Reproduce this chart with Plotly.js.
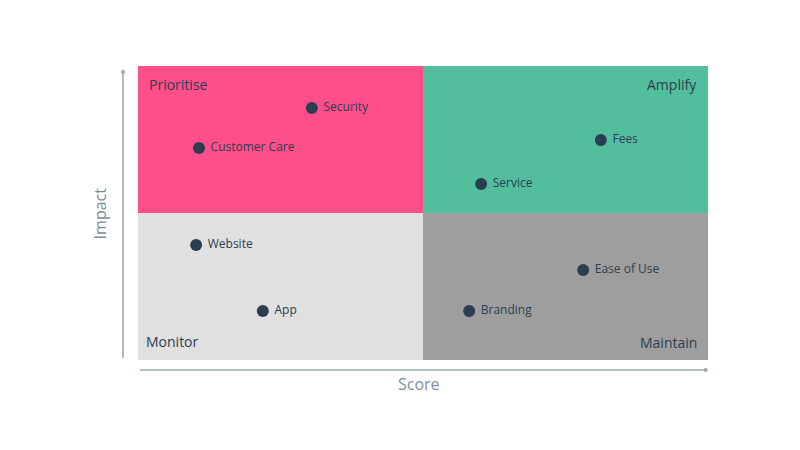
<!DOCTYPE html>
<html><head><meta charset="utf-8">
<script src="https://cdn.plot.ly/plotly-3.0.1.min.js"></script>
<style>body{margin:0;background:#fff}#c{width:800px;height:450px}</style>
</head><body><div id="c"></div>
<script>
var items = ["Security","Customer Care","Fees","Service","Website","App","Ease of Use","Branding"];
var scores = [30.5, 10.7, 81.2, 60.2, 10.2, 21.9, 78.1, 58.1];
var impacts = [85.7, 72.1, 74.8, 59.9, 39.1, 16.7, 30.6, 16.7];
var quadrantNames = ["Prioritise","Amplify","Monitor","Maintain"];
var quadrantColors = ["#FF4F8A","#52BE9E","#E0E0E0","#9E9E9E"];
var axisTitles = {x:"Score", y:"Impact"};

var FONT = "Open Sans, Lato, sans-serif";
var dark = "#2B3E50";

var trace = {
  x: scores, y: impacts, text: items, mode: "markers+text",
  type: "scatter", textposition: "middle right",
  marker: {size: 12, color: dark},
  textfont: {family: FONT, size: 12, color: dark},
  texttemplate: " %{text}", hoverinfo: "text", cliponaxis: false
};

var shapes = [
  {type:"rect", xref:"x", yref:"y", x0:0, x1:50, y0:50, y1:100, fillcolor:quadrantColors[0], line:{width:0}, layer:"below"},
  {type:"rect", xref:"x", yref:"y", x0:50, x1:100, y0:50, y1:100, fillcolor:quadrantColors[1], line:{width:0}, layer:"below"},
  {type:"rect", xref:"x", yref:"y", x0:0, x1:50, y0:0, y1:50, fillcolor:quadrantColors[2], line:{width:0}, layer:"below"},
  {type:"rect", xref:"x", yref:"y", x0:50, x1:100, y0:0, y1:50, fillcolor:quadrantColors[3], line:{width:0}, layer:"below"},
  {type:"line", xref:"paper", yref:"paper", x0:-0.0263, x1:-0.0263, y0:0.007, y1:0.98, line:{color:"#9AA8B0", width:1.5}},
  {type:"circle", xref:"paper", yref:"paper", x0:-0.0298, x1:-0.0228, y0:0.973, y1:0.987, fillcolor:"#9AA8B0", line:{width:0}},
  {type:"line", xref:"paper", yref:"paper", x0:0.0035, x1:0.996, y0:-0.034, y1:-0.034, line:{color:"#9AA8B0", width:1.5}},
  {type:"circle", xref:"paper", yref:"paper", x0:0.9925, x1:0.9995, y0:-0.041, y1:-0.027, fillcolor:"#9AA8B0", line:{width:0}}
];

var qf = {family: FONT, size: 14, color: dark};
var annotations = [
  {text:quadrantNames[0], xref:"paper", yref:"paper", x:0.016, y:0.975, xanchor:"left", yanchor:"top", showarrow:false, font:qf},
  {text:quadrantNames[1], xref:"paper", yref:"paper", x:0.985, y:0.975, xanchor:"right", yanchor:"top", showarrow:false, font:qf},
  {text:quadrantNames[2], xref:"paper", yref:"paper", x:0.011, y:0.025, xanchor:"left", yanchor:"bottom", showarrow:false, font:qf},
  {text:quadrantNames[3], xref:"paper", yref:"paper", x:0.985, y:0.02, xanchor:"right", yanchor:"bottom", showarrow:false, font:qf},
  {text:axisTitles.x, xref:"paper", yref:"paper", x:0.493, y:-0.08, xanchor:"center", yanchor:"middle", showarrow:false, font:{family:FONT, size:16, color:"#7D8E99"}},
  {text:axisTitles.y, xref:"paper", yref:"paper", x:-0.066, y:0.5, xanchor:"center", yanchor:"middle", textangle:-90, showarrow:false, font:{family:FONT, size:16, color:"#7D8E99"}}
];

var layout = {
  width: 800, height: 450,
  margin: {l:138, r:92, t:66, b:90},
  paper_bgcolor: "#fff", plot_bgcolor: "#fff",
  xaxis: {range:[0,100], showgrid:false, zeroline:false, showticklabels:false, ticks:"", showline:false, fixedrange:true},
  yaxis: {range:[0,100], showgrid:false, zeroline:false, showticklabels:false, ticks:"", showline:false, fixedrange:true},
  shapes: shapes, annotations: annotations, showlegend: false
};
Plotly.newPlot("c", [trace], layout, {displayModeBar:false, staticPlot:true});
</script></body></html>
